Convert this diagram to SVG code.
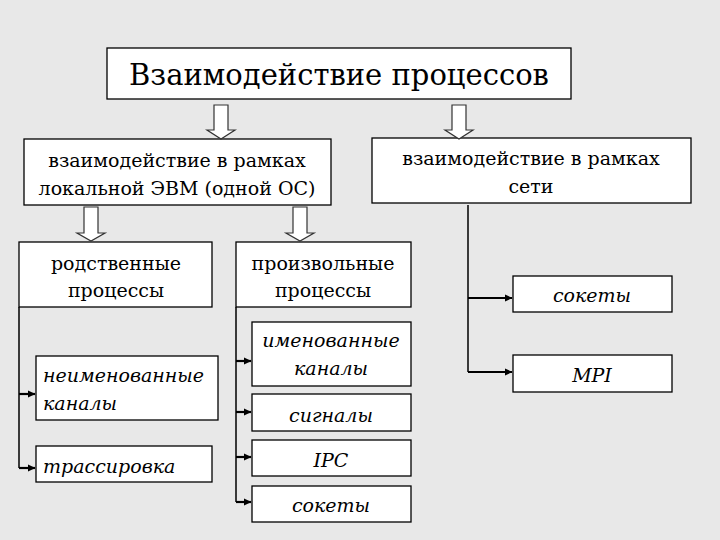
<svg xmlns="http://www.w3.org/2000/svg" width="720" height="540" viewBox="0 0 720 540">
<style>
.box{fill:#fff;stroke:#000;stroke-width:1.3}
.ha{fill:#fff;stroke:#333;stroke-width:1.2}
.ln{fill:none;stroke:#000;stroke-width:1.5}
.ar{fill:none;stroke:#000;stroke-width:2.2;marker-end:url(#ah)}
text{font-family:"DejaVu Serif", serif}
</style>
<defs>
<marker id="ah" markerWidth="8" markerHeight="8" refX="7" refY="4" orient="auto" markerUnits="userSpaceOnUse">
<path d="M0,0.5 L7.5,4 L0,7.5 Z" fill="#000"/>
</marker>
</defs>
<rect width="720" height="540" fill="#e8e8e8"/>
<g id="title">
<rect class="box" x="107" y="48" width="464" height="51"/>
<text x="339" y="85" font-size="29" text-anchor="middle">Взаимодействие процессов</text>
</g>
<g id="local" font-size="19" text-anchor="middle">
<rect class="box" x="24" y="139" width="307" height="66"/>
<text x="177" y="167">взаимодействие в рамках</text>
<text x="177" y="195">локальной ЭВМ (одной ОС)</text>
</g>
<g id="net" font-size="19" text-anchor="middle">
<rect class="box" x="372" y="138" width="319" height="65"/>
<text x="531" y="165">взаимодействие в рамках</text>
<text x="531" y="193">сети</text>
</g>
<g id="related" font-size="19" text-anchor="middle">
<rect class="box" x="19" y="242" width="193" height="65"/>
<text x="116" y="270">родственные</text>
<text x="116" y="297">процессы</text>
</g>
<g id="arbitrary" font-size="19" text-anchor="middle">
<rect class="box" x="236" y="242" width="175" height="65"/>
<text x="323" y="270">произвольные</text>
<text x="323" y="297">процессы</text>
</g>
<g id="unnamed" font-size="19" font-style="italic">
<rect class="box" x="36" y="356" width="182" height="64"/>
<text x="43" y="382">неименованные</text>
<text x="43" y="410">каналы</text>
</g>
<g id="trace" font-size="19" font-style="italic">
<rect class="box" x="36" y="446" width="176" height="36"/>
<text x="43" y="473">трассировка</text>
</g>
<g id="named" font-size="19" font-style="italic" text-anchor="middle">
<rect class="box" x="252" y="322" width="159" height="64"/>
<text x="331" y="347">именованные</text>
<text x="331" y="375">каналы</text>
</g>
<g id="signals" font-size="19" font-style="italic" text-anchor="middle">
<rect class="box" x="252" y="394" width="159" height="37"/>
<text x="331" y="422">сигналы</text>
</g>
<g id="ipc" font-size="19" font-style="italic" text-anchor="middle">
<rect class="box" x="252" y="440" width="159" height="36"/>
<text x="331" y="467">IPC</text>
</g>
<g id="sockets-local" font-size="19" font-style="italic" text-anchor="middle">
<rect class="box" x="252" y="486" width="159" height="36"/>
<text x="331" y="512">сокеты</text>
</g>
<g id="sockets-net" font-size="19" font-style="italic" text-anchor="middle">
<rect class="box" x="513" y="276" width="159" height="36"/>
<text x="592" y="302">сокеты</text>
</g>
<g id="mpi" font-size="19" font-style="italic" text-anchor="middle">
<rect class="box" x="513" y="355" width="159" height="37"/>
<text x="592" y="382">MPI</text>
</g>
<g id="connectors">
<path class="ha" d="M214,105 H228 V130 H235 L221,139 L207,130 H214 Z"/>
<path class="ha" d="M452,105 H466 V130 H473 L459,139 L445,130 H452 Z"/>
<path class="ha" d="M84,207 H98 V233 H105 L91,241 L77,233 H84 Z"/>
<path class="ha" d="M293,207 H307 V233 H314 L300,241 L286,233 H293 Z"/>
<path class="ln" d="M468,205 V372"/>
<path class="ar" d="M468,298 H512"/>
<path class="ar" d="M468,372 H512"/>
<path class="ln" d="M19,307 V468"/>
<path class="ar" d="M19,394 H35"/>
<path class="ar" d="M19,468 H35"/>
<path class="ln" d="M236,307 V502"/>
<path class="ar" d="M236,361 H251"/>
<path class="ar" d="M236,412 H251"/>
<path class="ar" d="M236,457 H251"/>
<path class="ar" d="M236,502 H251"/>
</g>
</svg>
